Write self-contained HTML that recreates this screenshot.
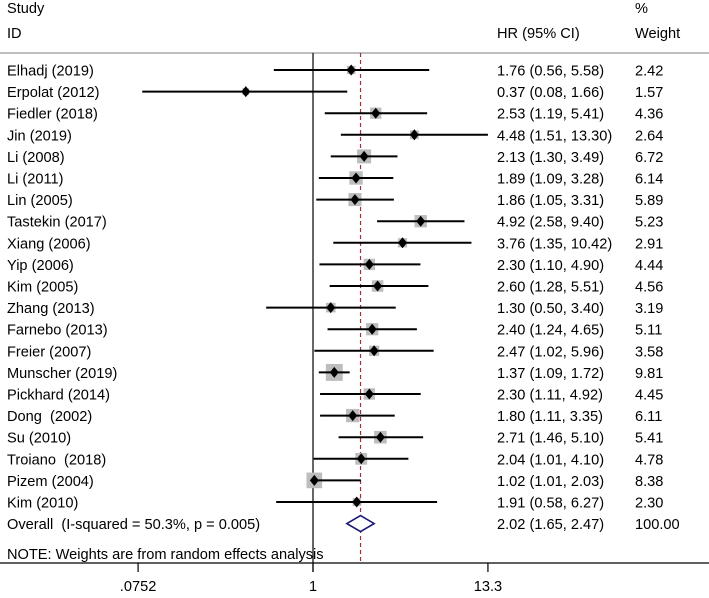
<!DOCTYPE html>
<html><head><meta charset="utf-8"><style>
body{margin:0;background:#fff;}
svg text{font-family:"Liberation Sans",Arial,sans-serif;font-size:14.6px;fill:#000;white-space:pre;}
</style></head><body>
<svg id="plot" width="709" height="593" xmlns="http://www.w3.org/2000/svg">
<text x="7" y="13">Study</text>
<text x="7" y="38">ID</text>
<text x="497" y="38">HR (95% CI)</text>
<text x="635" y="13">%</text>
<text x="635" y="38">Weight</text>
<line x1="0" y1="53" x2="709" y2="53" stroke="#999" stroke-width="1.2"/>
<g id="marks"></g>
<line x1="0" y1="563" x2="709" y2="563" stroke="#000" stroke-width="1.2"/>
</svg>
<script>
const studies=["Elhadj (2019)","Erpolat (2012)","Fiedler (2018)","Jin (2019)","Li (2008)","Li (2011)","Lin (2005)","Tastekin (2017)","Xiang (2006)","Yip (2006)","Kim (2005)","Zhang (2013)","Farnebo (2013)","Freier (2007)","Munscher (2019)","Pickhard (2014)","Dong  (2002)","Su (2010)","Troiano  (2018)","Pizem (2004)","Kim (2010)"];
const hr=[1.76,0.37,2.53,4.48,2.13,1.89,1.86,4.92,3.76,2.30,2.60,1.30,2.40,2.47,1.37,2.30,1.80,2.71,2.04,1.02,1.91];
const lo=[0.56,0.08,1.19,1.51,1.30,1.09,1.05,2.58,1.35,1.10,1.28,0.50,1.24,1.02,1.09,1.11,1.11,1.46,1.01,1.01,0.58];
const hi=[5.58,1.66,5.41,13.30,3.49,3.28,3.31,9.40,10.42,4.90,5.51,3.40,4.65,5.96,1.72,4.92,3.35,5.10,4.10,2.03,6.27];
const weights=[2.42,1.57,4.36,2.64,6.72,6.14,5.89,5.23,2.91,4.44,4.56,3.19,5.11,3.58,9.81,4.45,6.11,5.41,4.78,8.38,2.30];
const overall=[2.02,1.65,2.47];
const overallWeight="100.00";
const tickValues=[0.0752,1,13.3];
const tickLabels=[".0752","1","13.3"];
const NS="http://www.w3.org/2000/svg";
const g=document.getElementById('marks');
function xs(v){return 313+Math.log(v)*67.6;}
function ys(i){return 70+i*21.6;}
function mk(t,a,p){const e=document.createElementNS(NS,t);for(const k in a)e.setAttribute(k,a[k]);(p||g).appendChild(e);return e;}
function f(v){return v.toFixed(2);}
const nl=mk('line',{x1:xs(1),x2:xs(1),y1:53,y2:572,stroke:'#000','stroke-width':1.2});


const ol=mk('line',{x1:xs(overall[0]),x2:xs(overall[0]),y1:53,y2:563,stroke:'#a0303a','stroke-width':1.2,'stroke-dasharray':'4,3'});


studies.forEach((s,i)=>{
  const y=ys(i);
  const t=mk('text',{x:7,y:y+5.5});t.textContent=s;
  
  
  const side=5.4*Math.sqrt(weights[i]);
  const b=mk('rect',{x:xs(hr[i])-side/2,y:y-side/2,width:side,height:side,fill:'#bdbdbd'});
  
  
  const l=mk('line',{x1:xs(lo[i]),x2:xs(hi[i]),y1:y,y2:y,stroke:'#000','stroke-width':2});
  
  
  const cx=xs(hr[i]);
  const d=mk('polygon',{points:`${cx-4.5},${y} ${cx},${y-5.5} ${cx+4.5},${y} ${cx},${y+5.5}`,fill:'#000'});
  
  
  const c=mk('text',{x:497,y:y+5.5});c.textContent=`${f(hr[i])} (${f(lo[i])}, ${f(hi[i])})`;
  
  
  const w=mk('text',{x:635,y:y+5.5});w.textContent=f(weights[i]);
  
  
});
const oy=ys(studies.length);
const ot=mk('text',{x:7,y:oy+5.5});ot.textContent="Overall  (I-squared = 50.3%, p = 0.005)";


const od=mk('polygon',{points:`${xs(overall[1])},${oy} ${xs(overall[0])},${oy-8} ${xs(overall[2])},${oy} ${xs(overall[0])},${oy+8}`,fill:'#fff',stroke:'#1a1a7a','stroke-width':1.6});


const oc=mk('text',{x:497,y:oy+5.5});oc.textContent=`${f(overall[0])} (${f(overall[1])}, ${f(overall[2])})`;


const ow=mk('text',{x:635,y:oy+5.5});ow.textContent=overallWeight;


const nt=mk('text',{x:7,y:559});nt.textContent="NOTE: Weights are from random effects analysis";


tickValues.forEach((v,i)=>{
  const x=xs(v);
  const tk=mk('line',{x1:x,x2:x,y1:563,y2:572,stroke:'#000','stroke-width':1.2});
  
  
  const tl=mk('text',{x:x,y:591,'text-anchor':'middle'});tl.textContent=tickLabels[i];
  
  
});
</script>
</body></html>
